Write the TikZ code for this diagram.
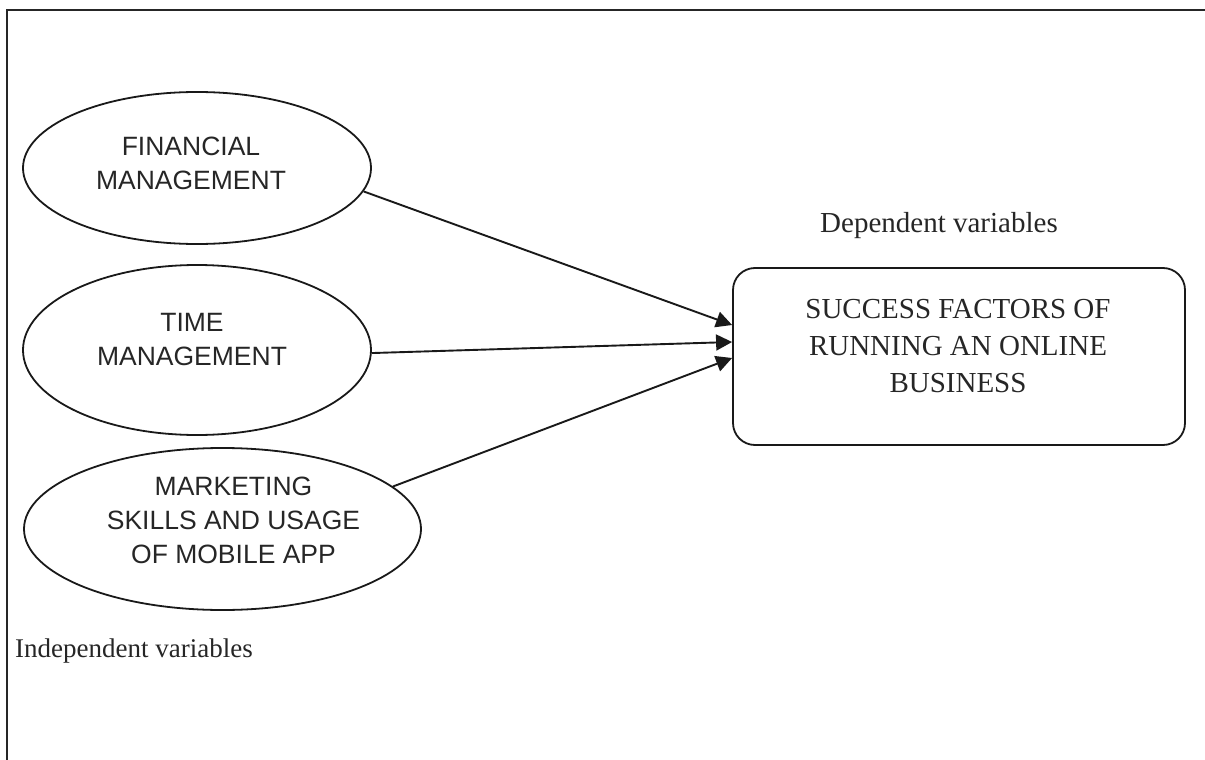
\documentclass[tikz,border=0pt]{standalone}
\usepackage{fontspec}
\setmainfont{Liberation Serif}
\newfontfamily\arialf{Liberation Sans}
\usetikzlibrary{shapes.geometric,arrows.meta}
\tikzset{
  ell/.style={draw=black!90, line width=1.8pt, ellipse, inner sep=0pt},
  elltext/.style={font=\arialf\fontsize{26.5}{34}\selectfont, align=center, text=black!85},
  serif/.style={font=\fontsize{29}{37}\selectfont, text=black!85},
  depbox/.style={draw=black!90, line width=1.8pt, rounded corners=22pt, inner sep=0pt},
  conn/.style={line width=1.9pt, black!90, -{Triangle[length=16pt,width=16pt]}},
  frame/.style={line width=2.5pt, black!85}
}
\begin{document}
\begin{tikzpicture}[x=1pt,y=-1pt]
\useasboundingbox (0,0) rectangle (1205,760);
% frame
\coordinate (fbl) at (7,761);
\coordinate (ftl) at (7,10);
\coordinate (ftr) at (1206,10);
\draw[frame] (fbl) -- (ftl) -- (ftr);
% ellipses
\node[ell, minimum width=348pt, minimum height=152pt,
  label={[elltext, xshift=-6pt, yshift=5pt]center:FINANCIAL\\MANAGEMENT}] (e1) at (197,168) {};
\node[ell, minimum width=348pt, minimum height=170pt,
  label={[elltext, xshift=-5pt, yshift=10.5pt]center:TIME\\MANAGEMENT}] (e2) at (197,350) {};
\node[ell, minimum width=397pt, minimum height=162pt,
  label={[elltext, xshift=11pt, yshift=8.5pt]center:MARKETING\\SKILLS AND USAGE\\OF MOBILE APP}] (e3) at (222.5,529) {};
% dependent box
\node[depbox, minimum width=452pt, minimum height=177pt,
  label={[serif, align=center, xshift=-1pt, yshift=10.5pt]center:SUCCESS FACTORS OF\\RUNNING AN ONLINE\\BUSINESS}] (box) at (959,356.5) {};
% labels
\node[serif, anchor=base, inner sep=0pt] (dep) at (939,232) {Dependent variables};
\node[font=\fontsize{27}{33}\selectfont, text=black!85, anchor=base west, inner sep=0pt] (ind) at (15,657) {Independent variables};
% connectors
\coordinate (t1) at (box.west |- 0,325);
\coordinate (t2) at (box.west |- 0,342);
\coordinate (t3) at (box.west |- 0,358);
\draw[conn] (e1.-8.4) -- (t1);
\draw[conn] (e2.-1) -- (t2);
\draw[conn] (e3.14.3) -- (t3);
\end{tikzpicture}
\end{document}
